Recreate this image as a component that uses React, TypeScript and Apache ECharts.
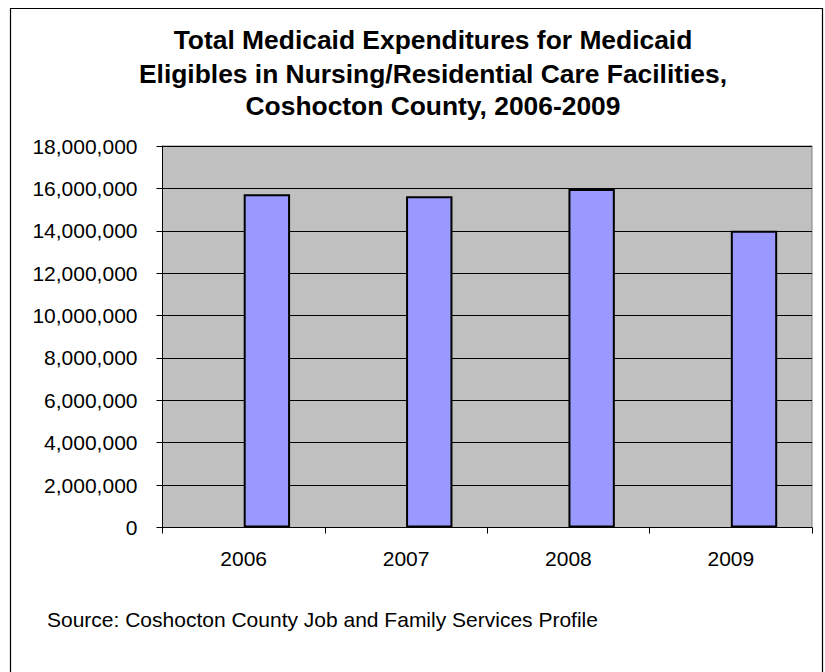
import React, { useEffect, useRef } from "react";
import * as echarts from "echarts";

const titleLines = [
  "Total Medicaid Expenditures for Medicaid",
  "Eligibles in Nursing/Residential Care Facilities,",
  "Coshocton County, 2006-2009",
];
const sourceNote = "Source: Coshocton County Job and Family Services Profile";
const years = ["2006", "2007", "2008", "2009"];
const expenditures = [15720000, 15630000, 15970000, 14000000];
// Empty companion series (as in the original spreadsheet chart) occupying the left slot
const blankSeries = [null, null, null, null];
const yMin = 0;
const yMax = 18000000;
const yStep = 2000000;

const FONT = "'Liberation Sans', Arial, sans-serif";

export default function App() {
  const ref = useRef<HTMLDivElement>(null);
  useEffect(() => {
    if (!ref.current) return;
    const chart = echarts.init(ref.current, null, { renderer: "svg" });
    const titleMid = [40, 73.5, 105.5];
    chart.setOption({
      animation: false,
      backgroundColor: "#ffffff",
      textStyle: { fontFamily: FONT },
      grid: {
        left: 162.5,
        top: 146,
        width: 649.5,
        height: 381.5,
        show: true,
        backgroundColor: "#C0C0C0",
        borderColor: "#808080",
        borderWidth: 1,
        containLabel: false,
      },
      xAxis: {
        type: "category",
        data: years,
        boundaryGap: true,
        axisLine: { show: true, lineStyle: { color: "#000", width: 1 } },
        axisTick: { show: true, alignWithLabel: false, length: 6, lineStyle: { color: "#000" } },
        axisLabel: { color: "#000", fontSize: 21, fontFamily: FONT, margin: 20 },
        splitLine: { show: false },
      },
      yAxis: {
        type: "value",
        min: yMin,
        max: yMax,
        interval: yStep,
        axisLine: { show: true, lineStyle: { color: "#000", width: 1 } },
        axisTick: { show: true, length: 6, lineStyle: { color: "#000" } },
        axisLabel: {
          color: "#000",
          fontSize: 21,
          fontFamily: FONT,
          margin: 25,
          formatter: (v: number) => v.toLocaleString("en-US"),
        },
        splitLine: { show: true, lineStyle: { color: "#000", width: 1 } },
      },
      series: [
        {
          type: "bar",
          name: "blank",
          data: blankSeries,
          barGap: "0%",
          barCategoryGap: "42.86%",
          itemStyle: { color: "#9999FF", borderColor: "#000", borderWidth: 2 },
          silent: true,
        },
        {
          type: "bar",
          name: "Total Medicaid Expenditures",
          data: expenditures,
          barGap: "0%",
          barCategoryGap: "42.86%",
          itemStyle: { color: "#9999FF", borderColor: "#000", borderWidth: 2 },
        },
      ],
      graphic: [
        {
          type: "rect",
          silent: true,
          z: -1,
          shape: { x: 10.5, y: 8.5, width: 812, height: 680 },
          style: { fill: "none", stroke: "#000", lineWidth: 1.2 },
        },
        ...titleLines.map((t, i) => ({
          type: "text",
          x: 433,
          y: titleMid[i],
          style: {
            text: t,
            fill: "#000",
            fontSize: 26.4,
            fontWeight: "bold",
            fontFamily: FONT,
            align: "center",
            verticalAlign: "middle",
            textAlign: "center",
            textVerticalAlign: "middle",
          },
        })),
        {
          type: "text",
          x: 47,
          y: 619,
          style: {
            text: sourceNote,
            fill: "#000",
            fontSize: 21,
            fontFamily: FONT,
            align: "left",
            verticalAlign: "middle",
            textAlign: "left",
            textVerticalAlign: "middle",
          },
        },
      ],
    });
    return () => chart.dispose();
  }, []);
  return (
    <div
      ref={ref}
      style={{ position: "fixed", left: 0, top: 0, width: 825, height: 672, background: "#fff" }}
    />
  );
}
